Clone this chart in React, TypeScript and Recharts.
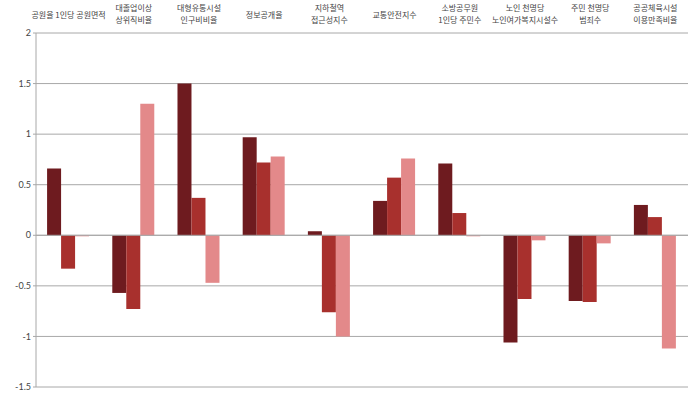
import { BarChart, Bar, XAxis, YAxis, CartesianGrid, ReferenceLine } from 'recharts'

const DARK = '#6E1B1F'
const RED = '#A8302D'
const PINK = '#E3898A'

const categories = [
  ['공원율 1인당 공원면적'],
  ['대졸업이상', '상위직비율'],
  ['대형유통시설', '인구비비율'],
  ['정보공개율'],
  ['지하철역', '접근성지수'],
  ['교통안전지수'],
  ['소방공무원', '1인당 주민수'],
  ['노인 천명당', '노인여가복지시설수'],
  ['주민 천명당', '범죄수'],
  ['공공체육시설', '이용만족비율'],
]
const seriesA = [0.66, -0.57, 1.5, 0.97, 0.04, 0.34, 0.71, -1.06, -0.65, 0.3]
const seriesB = [-0.33, -0.73, 0.37, 0.72, -0.76, 0.57, 0.22, -0.63, -0.66, 0.18]
const seriesC = [-0.01, 1.3, -0.47, 0.78, -1.0, 0.76, -0.01, -0.05, -0.08, -1.12]
const yTicks = [-1.5, -1, -0.5, 0, 0.5, 1, 1.5, 2]

const data = categories.map((c, i) => ({
  name: c.join('\n'),
  a: seriesA[i],
  b: seriesB[i],
  c: seriesC[i],
}))

function TopTick({ x, y, payload }: any) {
  const lines: string[] = String(payload.value).split('\n')
  const baseY = lines.length === 1 ? 18 : 11
  return (
    <text x={x} y={0} textAnchor="middle" fontSize={8} fill="#444" fontFamily="'Noto Sans CJK KR', sans-serif">
      {lines.map((l, i) => (
        <tspan key={i} x={x} y={baseY + i * 12}>
          {l}
        </tspan>
      ))}
    </text>
  )
}

export default function App() {
  return (
    <div style={{ width: 690, height: 393, background: '#fff', fontFamily: 'Lato, sans-serif' }}>
      <style>{'body{margin:0}'}</style>
      <BarChart
        width={690}
        height={393}
        data={data}
        margin={{ top: 0, right: 2, left: 6, bottom: 6 }}
        barGap={0}
        barCategoryGap="17%"
      >
        <CartesianGrid vertical={false} stroke="#A8A8A8" strokeWidth={1} />
        <XAxis
          dataKey="name"
          orientation="top"
          height={33}
          axisLine={false}
          tickLine={false}
          interval={0}
          tick={<TopTick />}
        />
        <YAxis
          domain={[-1.5, 2]}
          ticks={yTicks}
          width={30}
          axisLine={{ stroke: '#A8A8A8' }}
          tickLine={{ stroke: '#A8A8A8' }}
          tickSize={3}
          tick={{ fontSize: 9, fill: '#444' }}
          allowDataOverflow
        />
        <ReferenceLine y={0} stroke="#A8A8A8" />
        <Bar dataKey="a" fill={DARK} isAnimationActive={false} />
        <Bar dataKey="b" fill={RED} isAnimationActive={false} />
        <Bar dataKey="c" fill={PINK} isAnimationActive={false} />
      </BarChart>
    </div>
  )
}
